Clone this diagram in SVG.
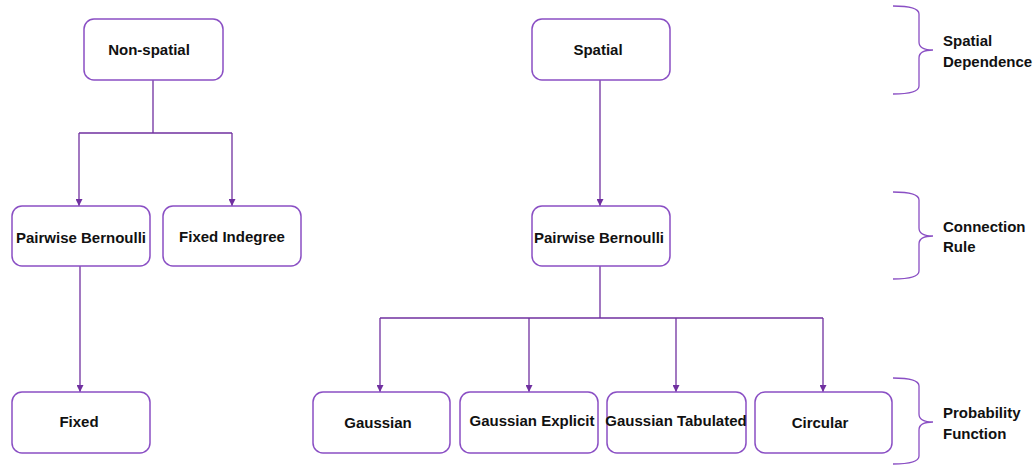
<svg xmlns="http://www.w3.org/2000/svg" width="1035" height="468" viewBox="0 0 1035 468">
<style>
.box{fill:#fff;stroke:#8a4fc4;stroke-width:1.5}
.lbl{font-family:"Liberation Sans",Arial,sans-serif;font-weight:bold;font-size:15px;fill:#111;text-anchor:middle;dominant-baseline:central}
.side{font-family:"Liberation Sans",Arial,sans-serif;font-weight:bold;font-size:15px;fill:#111}
.conn{fill:none;stroke:#7030a0;stroke-width:1.3}
.brace{fill:none;stroke:#8a4fc4;stroke-width:1.3}
</style>
<defs>
<marker id="arr" viewBox="0 0 10 10" refX="10" refY="5" markerWidth="7" markerHeight="7" markerUnits="userSpaceOnUse" orient="auto">
<path d="M0,0 L10,5 L0,10 z" fill="#7030a0"/>
</marker>
</defs>
<rect width="1035" height="468" fill="#fff"/>
<g id="connectors">
<path class="conn" d="M153,80 V133 M79,133 H232"/>
<path class="conn" d="M79,133 V206" marker-end="url(#arr)"/>
<path class="conn" d="M232,133 V206" marker-end="url(#arr)"/>
<path class="conn" d="M80,266 V392" marker-end="url(#arr)"/>
<path class="conn" d="M600,80 V206" marker-end="url(#arr)"/>
<path class="conn" d="M600,266 V318 M380,318 H823"/>
<path class="conn" d="M380,318 V392" marker-end="url(#arr)"/>
<path class="conn" d="M529,318 V392" marker-end="url(#arr)"/>
<path class="conn" d="M676,318 V392" marker-end="url(#arr)"/>
<path class="conn" d="M823,318 V392" marker-end="url(#arr)"/>
</g>
<g id="non-spatial"><rect class="box" x="84" y="19" width="139" height="61" rx="10"/><text class="lbl" x="149" y="49">Non-spatial</text></g>
<g id="spatial"><rect class="box" x="532" y="19" width="138" height="61" rx="10"/><text class="lbl" x="598" y="49">Spatial</text></g>
<g id="pairwise-bernoulli-left"><rect class="box" x="12" y="206" width="138" height="60" rx="10"/><text class="lbl" x="81" y="237">Pairwise Bernoulli</text></g>
<g id="fixed-indegree"><rect class="box" x="163" y="206" width="138" height="60" rx="10"/><text class="lbl" x="232" y="236">Fixed Indegree</text></g>
<g id="pairwise-bernoulli-right"><rect class="box" x="532" y="206" width="138" height="60" rx="10"/><text class="lbl" x="599" y="237">Pairwise Bernoulli</text></g>
<g id="fixed"><rect class="box" x="12" y="392" width="138" height="61" rx="10"/><text class="lbl" x="79" y="421">Fixed</text></g>
<g id="gaussian"><rect class="box" x="313" y="392" width="137" height="61" rx="10"/><text class="lbl" x="378" y="422">Gaussian</text></g>
<g id="gaussian-explicit"><rect class="box" x="460" y="392" width="138" height="61" rx="10"/><text class="lbl" x="532" y="420">Gaussian Explicit</text></g>
<g id="gaussian-tabulated"><rect class="box" x="607" y="392" width="139" height="61" rx="10"/><text class="lbl" x="676" y="420">Gaussian Tabulated</text></g>
<g id="circular"><rect class="box" x="755" y="392" width="137" height="61" rx="10"/><text class="lbl" x="820" y="422">Circular</text></g>
<g id="brace-spatial-dependence">
<path class="brace" d="M893,6 Q919,6 919,14 V42 Q919,50 933,50 Q919,50 919,58 V86 Q919,94 893,94"/>
<text class="side" x="943" y="46">Spatial</text><text class="side" x="943" y="67">Dependence</text>
</g>
<g id="brace-connection-rule">
<path class="brace" d="M893,192 Q919,192 919,200 V228 Q919,236 933,236 Q919,236 919,244 V271 Q919,279 893,279"/>
<text class="side" x="943" y="232">Connection</text><text class="side" x="943" y="252">Rule</text>
</g>
<g id="brace-probability-function">
<path class="brace" d="M893,378 Q919,378 919,386 V414 Q919,422 933,422 Q919,422 919,430 V456 Q919,464 893,464"/>
<text class="side" x="943" y="418">Probability</text><text class="side" x="943" y="439">Function</text>
</g>
</svg>
